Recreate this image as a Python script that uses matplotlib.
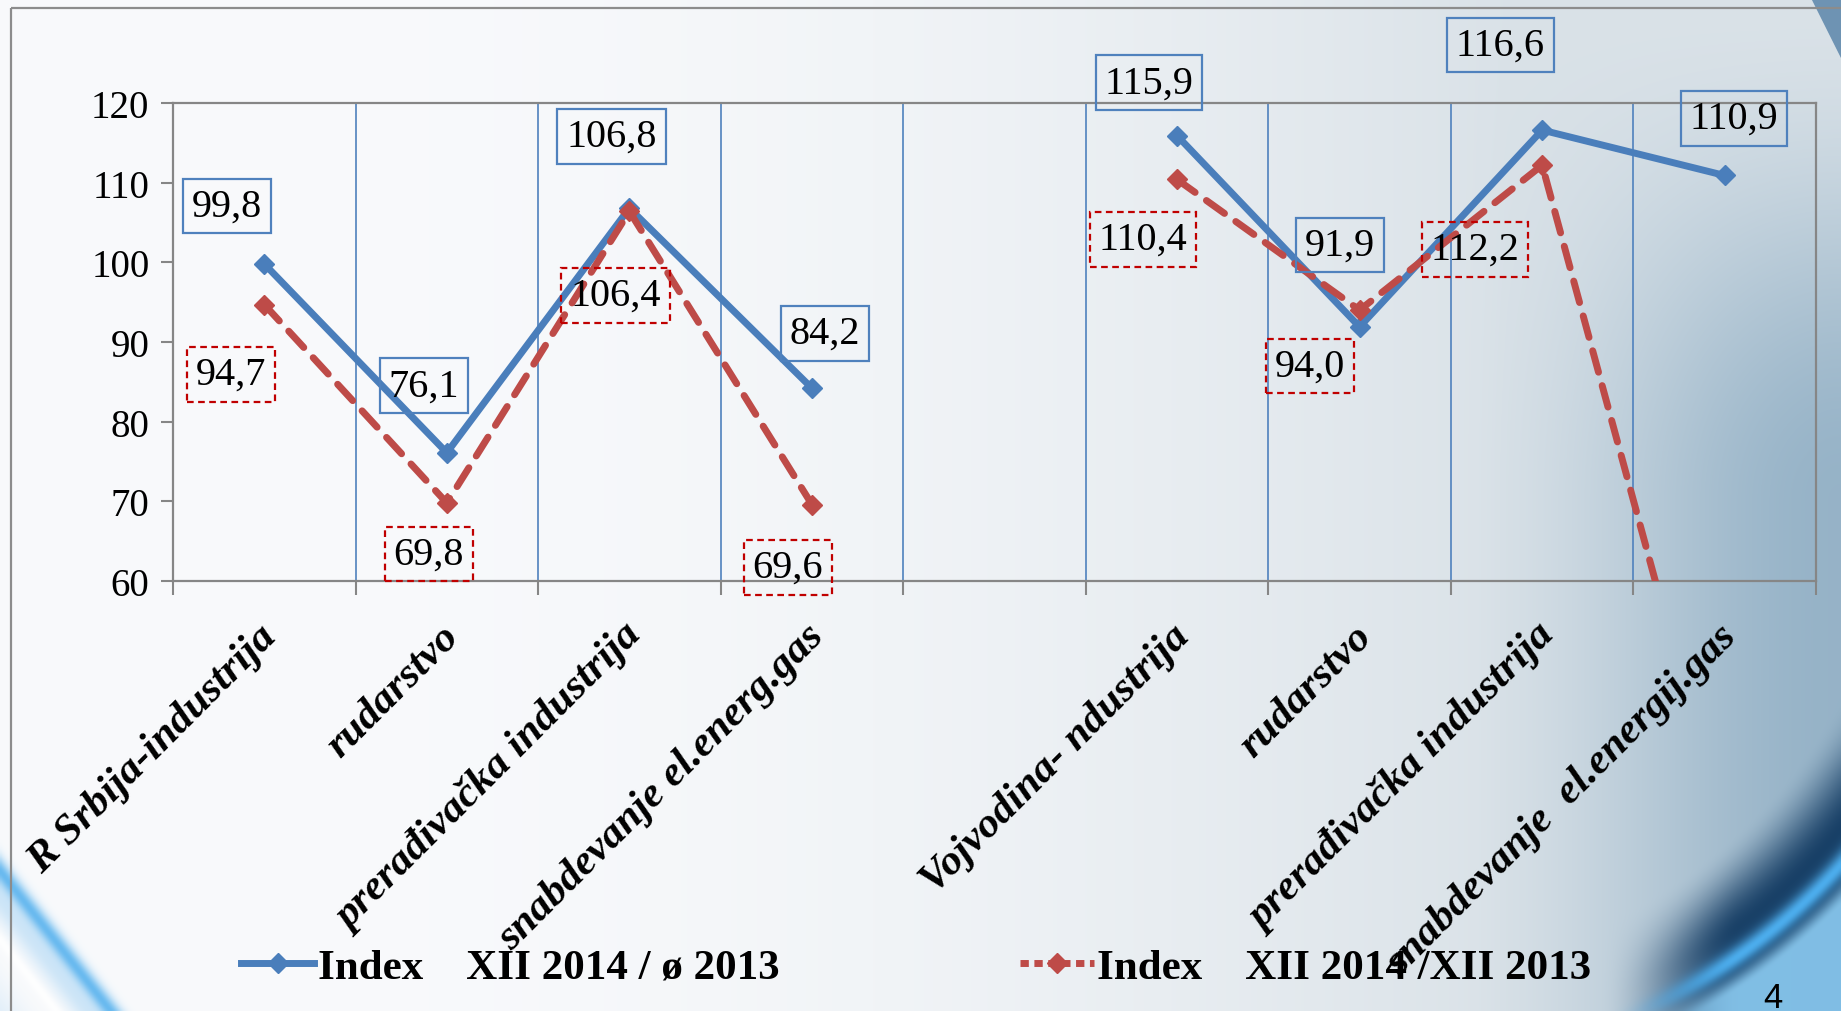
import numpy as np
import matplotlib
matplotlib.use("Agg")
import matplotlib.pyplot as plt
import matplotlib.transforms as mtransforms
from matplotlib.patches import Polygon, Rectangle
from matplotlib.lines import Line2D

# categories (empty slot separates the two regions)
kategorije = ["R Srbija-industrija", "rudarstvo", "prerađivačka industrija",
              "snabdevanje el.energ.gas", "",
              "Vojvodina- ndustrija", "rudarstvo", "prerađivačka industrija",
              "snabdevanje  el.energij.gas"]
# Index XII 2014 / ø 2013
index_prosek = [99.8, 76.1, 106.8, 84.2, np.nan, 115.9, 91.9, 116.6, 110.9]
# Index XII 2014 / XII 2013 (last value goes below the axis, no label)
index_xii = [94.7, 69.8, 106.4, 69.6, np.nan, 110.4, 94.0, 112.2, 28.0]
oznake_prosek = ["99,8", "76,1", "106,8", "84,2", "", "115,9", "91,9", "116,6", "110,9"]
oznake_xii = ["94,7", "69,8", "106,4", "69,6", "", "110,4", "94,0", "112,2", ""]
legenda = ["Index    XII 2014 / ø 2013", "Index    XII 2014 /XII 2013"]

# label offsets in pixels (placement only)
pomak_plavo = [(-37, 58), (-23, 67), (-18, 72), (13, 55), None, (-28, 53), (-20, 82), (-42, 85), (9, 57)]
pomak_crveno = [(-33, -70), (-18, -51), (-14, -84), (-24, -63), None, (-34, -60), (-50, -56), (-67, -84), None]

W, H = 1841, 1012
plava = "#4A7EBB"
crvena = "#BE4B48"
serif = "Liberation Serif"


def smooth(a, b, v):
    k = np.clip((v - a) / (b - a), 0, 1)
    return k * k * (3 - 2 * k)


def mix(img, col, alpha):
    return img * (1 - alpha[..., None]) + np.array(col) * alpha[..., None]


fig = plt.figure(figsize=(W / 100, H / 100), dpi=100)

# slide background
bg = fig.add_axes([0, 0, 1, 1], zorder=0)
X, Y = np.meshgrid(np.arange(0, W, 2.0), np.arange(0, H, 2.0))
t = np.clip((X - 250) / (W - 250), 0, 1) ** 2.0
img = np.ones(X.shape + (3,)) * np.array([0.975, 0.98, 0.988])
img = mix(img, (0.84, 0.875, 0.90), np.clip(t * 1.6, 0, 1) * 0.9)
img = mix(img, (0.50, 0.64, 0.74), smooth(1450, 1841, X) * smooth(0, 500, Y) * 0.75)
# dark swirl bottom right
R = np.hypot(X - 1400, Y - 470)
wr = smooth(1600, 1740, X) * smooth(620, 780, Y)
img = mix(img, (0.04, 0.20, 0.36), smooth(495, 570, R) * wr * 0.9)
img = mix(img, (0.30, 0.68, 0.93), np.exp(-((R - 592) / 10.0) ** 2) * wr)
img = mix(img, (0.55, 0.80, 0.95), smooth(598, 620, R) * wr * 0.9)
# light blue strokes bottom left
d = (X * 152 - (Y - 860) * 120) / np.hypot(152, 120)
img = mix(img, (0.30, 0.68, 0.93), np.exp(-((d + 8) / 9.0) ** 2) * 0.9)
img = mix(img, (0.70, 0.85, 0.96), np.exp(-((d + 25) / 14.0) ** 2) * 0.6)
img = mix(img, (1.0, 1.0, 1.0), np.exp(-((d + 50) / 5.0) ** 2) * 0.9)
img = mix(img, (0.75, 0.87, 0.96), smooth(-55, -120, d) * 0.6)
bg.imshow(np.clip(img, 0, 1), extent=[0, W, H, 0], aspect="auto", interpolation="bilinear")
bg.add_patch(Polygon([[1812, 0], [W, 0], [W, 58]], closed=True, color="#6E93B3"))
bg.add_patch(Rectangle((11, 9), 1900, 1100, fill=False, edgecolor="#8C8C8C", linewidth=1.6))
bg.set_xlim(0, W)
bg.set_ylim(H, 0)
bg.axis("off")

ax = fig.add_axes([173 / W, 1 - 582 / H, (1816 - 173) / W, (582 - 104) / H], zorder=2)
ax.patch.set_alpha(0)

x = np.arange(len(kategorije))
ax.plot(x, index_prosek, color=plava, lw=5, marker="D", ms=10, solid_capstyle="round", zorder=3)
ax.plot(x, index_xii, color=crvena, lw=5, marker="D", ms=10, dashes=(3.2, 2.0),
        dash_capstyle="round", zorder=4)

for i in range(len(kategorije)):
    if oznake_prosek[i]:
        ax.annotate(oznake_prosek[i], (x[i], index_prosek[i]), xytext=pomak_plavo[i],
                    textcoords="offset pixels", ha="center", va="center",
                    fontsize=29, family=serif, annotation_clip=False, zorder=5,
                    bbox=dict(boxstyle="square,pad=0.22", fc="none", ec="#4F81BD", lw=1.6))
    if oznake_xii[i]:
        ax.annotate(oznake_xii[i], (x[i], index_xii[i]), xytext=pomak_crveno[i],
                    textcoords="offset pixels", ha="center", va="center",
                    fontsize=29, family=serif, annotation_clip=False, zorder=5,
                    bbox=dict(boxstyle="square,pad=0.22", fc="none", ec="#C00000", lw=1.6, ls=(0, (3, 2))))

ax.set_xlim(-0.5, len(kategorije) - 0.5)
ax.set_ylim(60, 120)
ax.set_yticks(range(60, 121, 10))
ax.set_xticks(np.arange(len(kategorije) + 1) - 0.5)
ax.set_xticklabels([])
ax.tick_params(axis="x", which="major", length=10, width=1.5, color="#868686")
ax.tick_params(axis="y", length=9, width=1.5, color="#868686", pad=8)
for lab in ax.get_yticklabels():
    lab.set_family(serif)
    lab.set_fontsize(28)

# category labels, rotated
pomak = mtransforms.ScaledTranslation(20 / 100, -36 / 100, fig.dpi_scale_trans)
for i, k in enumerate(kategorije):
    ax.text(x[i], 0, k, transform=ax.get_xaxis_transform() + pomak, rotation=45,
            ha="right", va="top", fontsize=31, family=serif, fontweight="bold",
            fontstyle="italic", clip_on=False)

ax.grid(axis="x", which="major", color="#4F81BD", lw=1.2)
for sp in ax.spines.values():
    sp.set_color("#868686")
    sp.set_linewidth(1.6)

rucke = [Line2D([], [], color=plava, lw=5, marker="D", ms=10),
         Line2D([], [], color=crvena, lw=5, marker="D", ms=10, dashes=(1.2, 0.8))]
fig.legend(rucke, legenda, loc="center", bbox_to_anchor=(916 / W, 1 - 968 / H), ncol=2,
           frameon=False, handlelength=1.7, handletextpad=0.08, columnspacing=5.6,
           prop=dict(family=serif, weight="bold", size=31))

fig.text(1773 / W, 1 - 999 / H, "4", ha="center", va="center", fontsize=25,
         family="Liberation Sans", color="black")

fig.savefig("out.png", dpi=100)
